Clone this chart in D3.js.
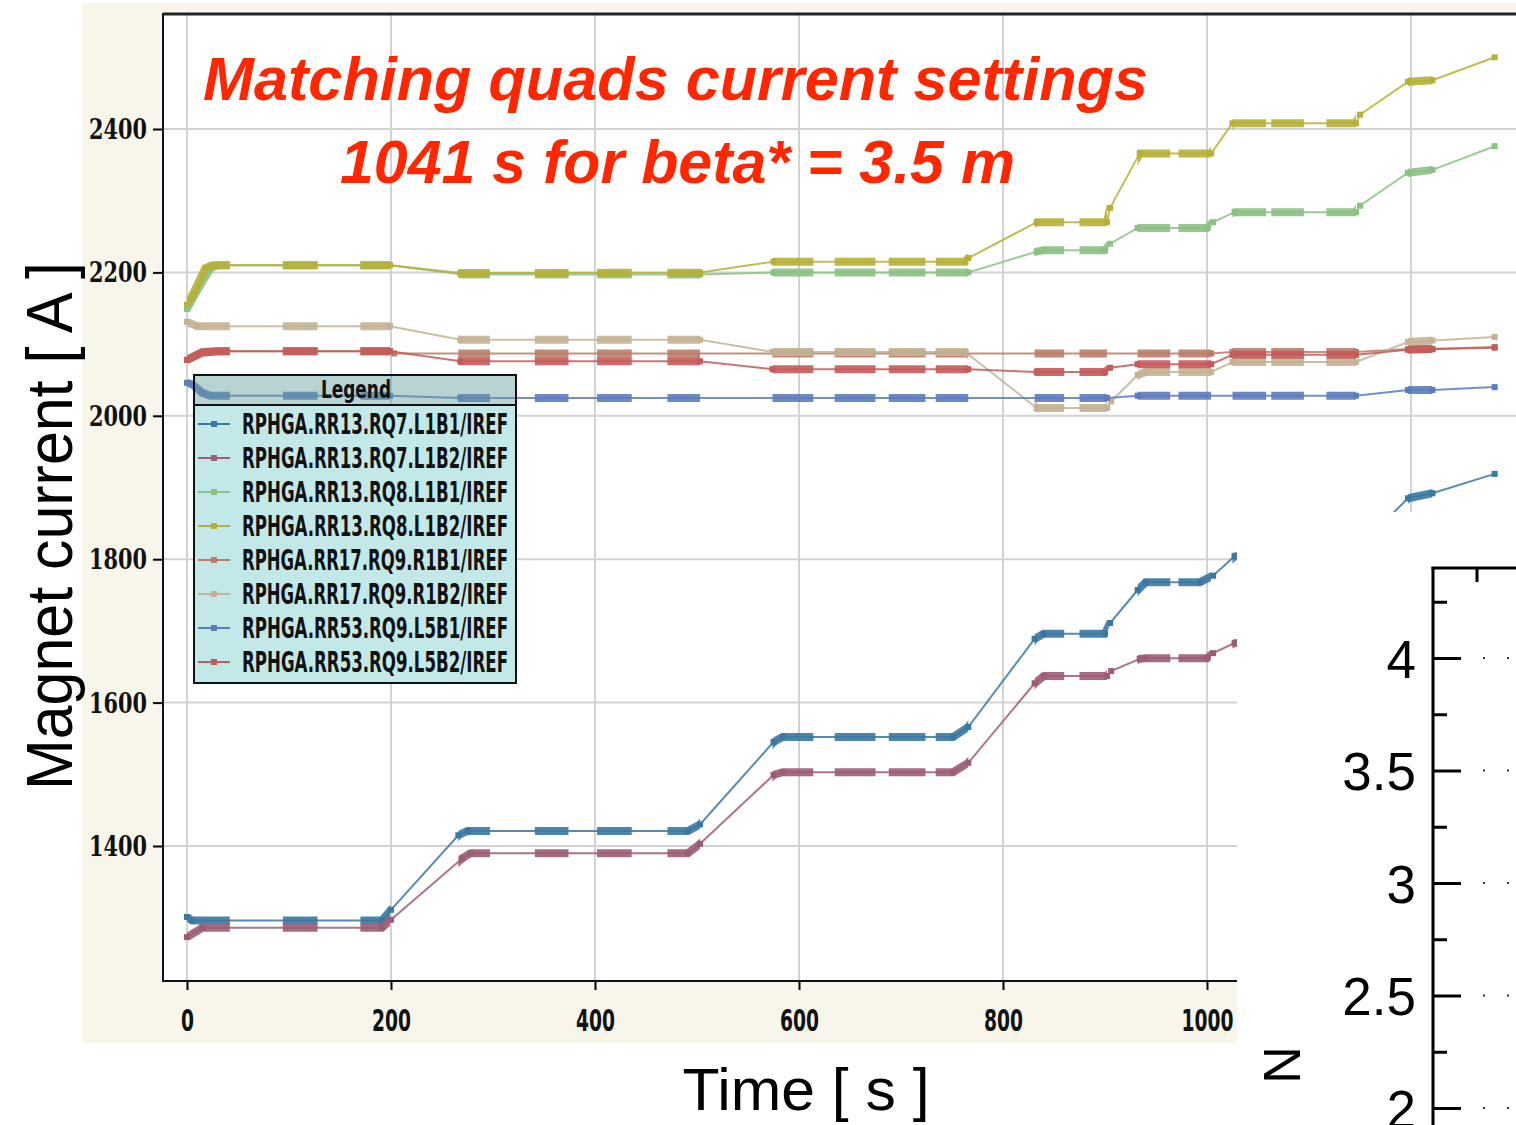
<!DOCTYPE html>
<html>
<head>
<meta charset="utf-8">
<script src="https://cdn.jsdelivr.net/npm/d3@7"></script>
<style>
  body { margin: 0; background: #fff; }
  svg { display: block; }
</style>
</head>
<body>
<div id="plot"></div>
<script>
// series names + colours, legend order
const seriesNames = [
  "RPHGA.RR13.RQ7.L1B1/IREF",
  "RPHGA.RR13.RQ7.L1B2/IREF",
  "RPHGA.RR13.RQ8.L1B1/IREF",
  "RPHGA.RR13.RQ8.L1B2/IREF",
  "RPHGA.RR17.RQ9.R1B1/IREF",
  "RPHGA.RR17.RQ9.R1B2/IREF",
  "RPHGA.RR53.RQ9.L5B1/IREF",
  "RPHGA.RR53.RQ9.L5B2/IREF"
];
const seriesColors = ["#3a78a2", "#9c5c76", "#8cc184", "#b6b036", "#b97c69", "#c3b394", "#5b7dbe", "#c65a5a"];

// [time s, current A]
const rq7L1B1 = [[0,1301],[5,1296],[191,1296],[200,1311],[266,1415],[275,1421],[491,1421],[503,1430],[575,1545],[584,1552],[751,1552],[766,1566],[831,1689],[840,1696],[900,1696],[905,1711],[932,1757],[940,1768],[993,1768],[1006,1777],[1027,1804],[1095,1808],[1146,1812],[1150,1818],[1197,1885],[1221,1892],[1282,1919]];
const rq7L1B2 = [[0,1273],[15,1286],[191,1286],[200,1297],[270,1383],[278,1390],[491,1390],[503,1403],[575,1499],[584,1503],[751,1503],[766,1516],[831,1627],[840,1637],[902,1637],[906,1644],[934,1661],[940,1662],[1000,1662],[1006,1669],[1027,1683],[1146,1690],[1197,1740],[1282,1775]];
const rq8L1B1 = [[0,2149],[8,2170],[23,2206],[30,2210],[199,2210],[270,2197],[503,2197],[575,2200],[766,2200],[833,2229],[840,2231],[900,2231],[905,2240],[932,2262],[1000,2262],[1006,2270],[1027,2284],[1146,2284],[1150,2293],[1197,2339],[1221,2343],[1282,2376]];
const rq8L1B2 = [[0,2155],[5,2167],[18,2206],[25,2210],[199,2210],[268,2199],[503,2200],[575,2215],[763,2215],[766,2220],[833,2270],[902,2270],[905,2290],[934,2366],[1004,2366],[1025,2408],[1146,2408],[1150,2420],[1197,2466],[1221,2468],[1282,2500]];
const rr17R1B1 = [[0,2078],[15,2089],[30,2090],[199,2090],[203,2087],[1004,2087],[1025,2089],[1146,2089],[1197,2093],[1221,2093],[1282,2096]];
const rr17R1B2 = [[0,2131],[10,2125],[199,2125],[268,2106],[503,2106],[574,2089],[763,2089],[833,2011],[902,2011],[906,2020],[932,2057],[940,2061],[1004,2061],[1025,2075],[1146,2075],[1197,2103],[1221,2105],[1282,2110]];
const rr53L5B1 = [[0,2046],[5,2044],[15,2032],[23,2028],[199,2028],[268,2025],[902,2025],[932,2028],[1146,2028],[1197,2036],[1221,2036],[1282,2040]];
const rr53L5B2 = [[0,2078],[15,2088],[30,2090],[199,2090],[268,2076],[503,2076],[574,2065],[766,2065],[833,2061],[900,2061],[905,2067],[932,2072],[1004,2072],[1025,2085],[1146,2085],[1197,2092],[1221,2093],[1282,2095]];
const seriesData = [rq7L1B1, rq7L1B2, rq8L1B1, rq8L1B2, rr17R1B1, rr17R1B2, rr53L5B1, rr53L5B2];

// time windows with dense logging (drawn as thick blocks)
const sampleWindows = [[0,42],[94,128],[170,199],[266,297],[341,374],[402,436],[471,503],[574,614],[635,675],[688,724],[734,766],[831,860],[875,902],[932,964],[972,1004],[1025,1058],[1063,1095],[1117,1146],[1197,1221]];

const xTicks = [0, 200, 400, 600, 800, 1000];
const xGrid = [0, 200, 400, 600, 800, 1000, 1200];
const yTicks = [1400, 1600, 1800, 2000, 2200, 2400];
const zTicks = [2, 2.5, 3, 3.5, 4];
const zMinor = [2.25, 2.75, 3.25, 3.75, 4.25];

const width = 1516, height = 1125;
const plotL = 163, plotT = 14, plotR = 1516, plotB = 981;

const x = d3.scaleLinear().domain([0, 1000]).range([187, 1207]);
const y = d3.scaleLinear().domain([1400, 2400]).range([846, 129]);
const z = d3.scaleLinear().domain([2, 4]).range([1108, 658]);

const svg = d3.select("#plot").append("svg")
  .attr("width", width)
  .attr("height", height)
  .attr("viewBox", [0, 0, width, height]);

const defs = svg.append("defs");
defs.append("clipPath").attr("id", "plotclip")
  .append("rect").attr("x", plotL).attr("y", plotT)
  .attr("width", plotR - plotL).attr("height", plotB - plotT);
defs.append("clipPath").attr("id", "winclip")
  .selectAll("rect").data(sampleWindows).join("rect")
  .attr("x", d => x(d[0]))
  .attr("width", d => x(d[1]) - x(d[0]))
  .attr("y", plotT).attr("height", plotB - plotT);

// cream panel + white plot area
svg.append("rect").attr("x", 82).attr("y", 3).attr("width", width - 82).attr("height", 1040).attr("fill", "#f8f6ea");
svg.append("rect").attr("x", plotL).attr("y", plotT).attr("width", plotR - plotL).attr("height", plotB - plotT).attr("fill", "#fff");

// grid
const grid = svg.append("g").attr("stroke", "#d2d2d2").attr("stroke-width", 2);
grid.selectAll(".gx").data(xGrid).join("line")
  .attr("x1", d => x(d)).attr("x2", d => x(d)).attr("y1", plotT).attr("y2", plotB);
grid.selectAll(".gy").data(yTicks).join("line")
  .attr("x1", plotL).attr("x2", plotR).attr("y1", d => y(d)).attr("y2", d => y(d));

// lines
const line = d3.line().x(d => x(d[0])).y(d => y(d[1]));
const plotG = svg.append("g").attr("clip-path", "url(#plotclip)");
const thinG = plotG.append("g");
const thickG = plotG.append("g").attr("clip-path", "url(#winclip)");
seriesData.forEach((s, i) => {
  thinG.append("path").attr("d", line(s)).attr("fill", "none")
    .attr("stroke", seriesColors[i]).attr("stroke-width", 2).attr("stroke-opacity", 0.85);
  thickG.append("path").attr("d", line(s)).attr("fill", "none")
    .attr("stroke", seriesColors[i]).attr("stroke-width", 8).attr("stroke-opacity", 0.9);
  thinG.selectAll(null).data(s).join("rect")
    .attr("x", d => x(d[0]) - 3).attr("y", d => y(d[1]) - 3)
    .attr("width", 6).attr("height", 6).attr("fill", seriesColors[i]);
});

// axes
const condensed = "'DejaVu Sans Condensed','DejaVu Sans',sans-serif";
svg.append("g")
  .attr("transform", `translate(0,${plotB})`)
  .call(d3.axisBottom(x).tickValues(xTicks).tickSize(9).tickPadding(8).tickFormat(d3.format("d")))
  .call(g => g.select(".domain").remove())
  .call(g => g.selectAll(".tick line").attr("stroke", "#000").attr("stroke-width", 2))
  .call(g => g.selectAll(".tick text")
    .attr("font-family", condensed).attr("font-weight", "bold").attr("font-size", 31)
    .attr("fill", "#111").attr("dy", "1.05em")
    .attr("textLength", d => 13 * String(d).length).attr("lengthAdjust", "spacingAndGlyphs"));

svg.append("g")
  .attr("transform", `translate(${plotL},0)`)
  .call(d3.axisLeft(y).tickValues(yTicks).tickSize(10).tickPadding(6).tickFormat(d3.format("d")))
  .call(g => g.select(".domain").remove())
  .call(g => g.selectAll(".tick line").attr("stroke", "#000").attr("stroke-width", 2))
  .call(g => g.selectAll(".tick text")
    .attr("font-family", "'DejaVu Serif',serif").attr("font-weight", "bold").attr("font-size", 27)
    .attr("fill", "#111").attr("dy", "0.35em")
    .attr("textLength", 58).attr("lengthAdjust", "spacingAndGlyphs"));

// frame
svg.append("line").attr("x1", plotL).attr("x2", plotL).attr("y1", plotT - 1).attr("y2", plotB + 1).attr("stroke", "#111").attr("stroke-width", 2);
svg.append("line").attr("x1", plotL).attr("x2", plotR).attr("y1", plotT).attr("y2", plotT).attr("stroke", "#222").attr("stroke-width", 3);
svg.append("line").attr("x1", plotL).attr("x2", 1237).attr("y1", plotB).attr("y2", plotB).attr("stroke", "#111").attr("stroke-width", 2);

// legend
const lg = svg.append("g");
lg.append("rect").attr("x", 194).attr("y", 405).attr("width", 322).attr("height", 278).attr("fill", "#c2e9e7");
lg.append("rect").attr("x", 194).attr("y", 375).attr("width", 322).attr("height", 30).attr("fill", "rgba(100,155,155,0.45)");
lg.append("rect").attr("x", 194).attr("y", 375).attr("width", 322).attr("height", 308)
  .attr("fill", "none").attr("stroke", "#111").attr("stroke-width", 2);
lg.append("line").attr("x1", 194).attr("x2", 516).attr("y1", 405).attr("y2", 405).attr("stroke", "#111").attr("stroke-width", 2);
lg.append("text").attr("x", 356).attr("y", 398).attr("text-anchor", "middle")
  .attr("font-family", condensed).attr("font-weight", "bold").attr("font-size", 25)
  .attr("textLength", 70).attr("lengthAdjust", "spacingAndGlyphs").attr("fill", "#111").text("Legend");
const items = lg.selectAll(".item").data(seriesNames).join("g")
  .attr("transform", (d, i) => `translate(0,${424 + i * 34})`);
items.append("line").attr("x1", 198).attr("x2", 230).attr("stroke", (d, i) => seriesColors[i]).attr("stroke-width", 2);
items.append("rect").attr("x", 211).attr("y", -3).attr("width", 6).attr("height", 6).attr("fill", (d, i) => seriesColors[i]);
items.append("text").attr("x", 242).attr("y", 10)
  .attr("font-family", condensed).attr("font-weight", "bold").attr("font-size", 28)
  .attr("textLength", 266).attr("lengthAdjust", "spacingAndGlyphs").attr("fill", "#111").text(d => d);

// title
const title = svg.append("g").attr("font-family", "'Liberation Sans',Arial,sans-serif")
  .attr("font-weight", "bold").attr("font-style", "italic").attr("fill", "#ff2600").attr("font-size", 61);
title.append("text").attr("x", 203).attr("y", 100).attr("textLength", 945).attr("lengthAdjust", "spacingAndGlyphs")
  .text("Matching quads current settings");
title.append("text").attr("x", 340).attr("y", 183).attr("textLength", 675).attr("lengthAdjust", "spacingAndGlyphs")
  .text("1041 s for beta* = 3.5 m");

// axis titles
svg.append("text").attr("transform", "translate(72,526) rotate(-90)").attr("text-anchor", "middle")
  .attr("font-family", "'Liberation Sans',Arial,sans-serif").attr("font-size", 64)
  .attr("textLength", 528).attr("lengthAdjust", "spacingAndGlyphs").attr("fill", "#000")
  .text("Magnet current [ A ]");
svg.append("text").attr("x", 806).attr("y", 1110).attr("text-anchor", "middle")
  .attr("font-family", "'Liberation Sans',Arial,sans-serif").attr("font-size", 60)
  .attr("textLength", 247).attr("lengthAdjust", "spacingAndGlyphs").attr("fill", "#000")
  .text("Time [ s ]");

// overlapping second panel (bottom right)
svg.append("rect").attr("x", 1237).attr("y", 512).attr("width", width - 1237).attr("height", height - 512).attr("fill", "#fff");
const zg = svg.append("g").attr("transform", "translate(1433,0)");
zg.append("g")
  .call(d3.axisLeft(z).tickValues(zMinor).tickSizeInner(-14).tickSizeOuter(0).tickFormat(""))
  .call(g => g.select(".domain").remove())
  .call(g => g.selectAll(".tick line").attr("stroke", "#000").attr("stroke-width", 3));
zg.append("g")
  .call(d3.axisLeft(z).tickValues(zTicks).tickSizeInner(-28).tickSizeOuter(0).tickPadding(17).tickFormat(d3.format("")))
  .call(g => g.select(".domain").remove())
  .call(g => g.selectAll(".tick line").attr("stroke", "#000").attr("stroke-width", 3))
  .call(g => g.selectAll(".tick text")
    .attr("font-family", "'Liberation Sans',Arial,sans-serif").attr("font-size", 53).attr("fill", "#000").attr("dy", "0.36em"));
zg.selectAll(".zdot").data(zTicks).join("line")
  .attr("x1", 50).attr("x2", 90).attr("y1", d => z(d)).attr("y2", d => z(d))
  .attr("stroke", "#333").attr("stroke-width", 2).attr("stroke-dasharray", "2,22");
zg.append("line").attr("x1", 0).attr("x2", 0).attr("y1", 567).attr("y2", height).attr("stroke", "#000").attr("stroke-width", 3);
zg.append("line").attr("x1", -1.5).attr("x2", 90).attr("y1", 568).attr("y2", 568).attr("stroke", "#000").attr("stroke-width", 3);
zg.append("line").attr("x1", 44).attr("x2", 44).attr("y1", 568).attr("y2", 582).attr("stroke", "#000").attr("stroke-width", 3);
svg.append("text").attr("transform", "translate(1300,1065) rotate(-90)").attr("text-anchor", "middle")
  .attr("font-family", "'Liberation Sans',Arial,sans-serif").attr("font-size", 52).attr("fill", "#000")
  .text("N");
</script>
</body>
</html>
